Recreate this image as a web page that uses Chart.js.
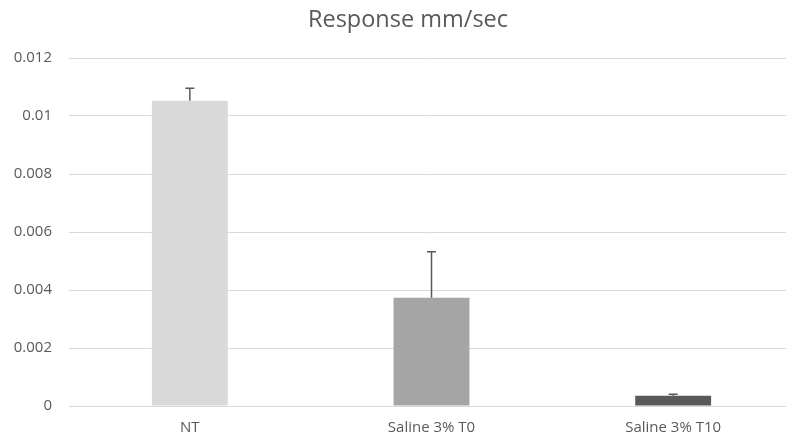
<!DOCTYPE html>
<html>
<head>
<meta charset="utf-8">
<script src="https://cdn.jsdelivr.net/npm/chart.js@4/dist/chart.umd.min.js"></script>
<style>
  html, body { margin: 0; padding: 0; background: #fff; overflow: hidden; }
  #wrap { position: relative; width: 786px; height: 441px; overflow: hidden; }
  #c { display: block; }
</style>
</head>
<body>
<div id="wrap"><canvas id="c" width="816" height="441"></canvas></div>
<script>
const categories = ['NT', 'Saline 3% T0', 'Saline 3% T10'];
const responseValues = [0.01053, 0.003735, 0.000355];
const errorValues = [0.00043, 0.00158, 0.00005];
const barColors = ['#d9d9d9', '#a5a5a5', '#595959'];
const yTickLabels = ['0', '0.002', '0.004', '0.006', '0.008', '0.01', '0.012'];

const textColor = '#595959';
const fontFamily = "'Open Sans', 'Liberation Sans', sans-serif";

// Draws a one-sided (positive) error bar with a small cap above each bar.
const errorBarPlugin = {
  id: 'errorBars',
  afterDatasetsDraw(chart) {
    const { ctx, scales } = chart;
    const meta = chart.getDatasetMeta(0);
    ctx.save();
    ctx.strokeStyle = '#595959';
    ctx.lineWidth = 1.5;
    meta.data.forEach((bar, i) => {
      const x = bar.x;
      const yBase = scales.y.getPixelForValue(responseValues[i]);
      const yTop = scales.y.getPixelForValue(responseValues[i] + errorValues[i]);
      ctx.beginPath();
      ctx.moveTo(x, yBase);
      ctx.lineTo(x, yTop);
      ctx.moveTo(x - 4.5, yTop);
      ctx.lineTo(x + 4.5, yTop);
      ctx.stroke();
    });
    ctx.restore();
  }
};

new Chart(document.getElementById('c'), {
  type: 'bar',
  data: {
    labels: categories,
    datasets: [{
      data: responseValues,
      backgroundColor: barColors,
      borderWidth: 0,
      categoryPercentage: 1,
      barPercentage: 0.314
    }]
  },
  options: {
    responsive: false,
    devicePixelRatio: 1,
    animation: false,
    layout: { padding: { left: 0, right: 0, top: 6, bottom: 0 } },
    plugins: {
      legend: { display: false },
      tooltip: { enabled: false },
      title: {
        display: true,
        text: 'Response mm/sec',
        color: textColor,
        font: { family: fontFamily, size: 23.5, weight: 'normal' },
        padding: { top: 0, bottom: 23.8 }
      }
    },
    scales: {
      x: {
        grid: { display: false, drawTicks: false },
        border: { display: true, color: '#d9d9d9', width: 1 },
        ticks: {
          color: textColor,
          font: { family: fontFamily, size: 15 },
          padding: 13
        },
        afterFit(scale) { scale.height = 35; }
      },
      y: {
        min: 0,
        max: 0.012,
        grid: { color: '#d9d9d9', lineWidth: 1, drawTicks: false },
        border: { display: false },
        ticks: {
          stepSize: 0.002,
          color: textColor,
          font: { family: fontFamily, size: 15 },
          padding: 17,
          callback: (v, i) => yTickLabels[i]
        },
        afterFit(scale) { scale.width = 69; }
      },
      // empty right-hand margin axis (no ticks, no lines)
      yRight: {
        position: 'right',
        min: 0,
        max: 1,
        grid: { display: false, drawTicks: false },
        border: { display: false },
        ticks: { display: false },
        afterFit(scale) { scale.width = 22; }
      }
    }
  },
  plugins: [errorBarPlugin]
});
</script>
</body>
</html>
